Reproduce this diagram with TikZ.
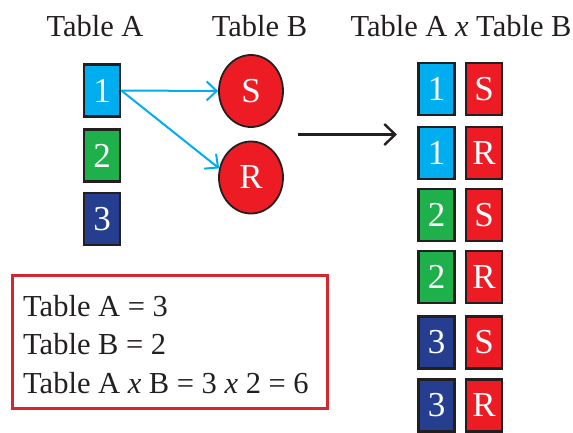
\documentclass[tikz,border=0pt]{standalone}
\usepackage{fontspec}
\setmainfont{Liberation Serif}
\usetikzlibrary{arrows.meta,shapes.geometric}
\definecolor{cyanA}{HTML}{00AEEF}
\definecolor{greenA}{HTML}{1EB04B}
\definecolor{navyA}{HTML}{253E8F}
\definecolor{redA}{HTML}{ED1C24}
\definecolor{edgeA}{HTML}{231F20}
\definecolor{frameA}{HTML}{D7262F}
\begin{document}
\begin{tikzpicture}[x=1pt,y=-1pt,
  cell/.style={draw=edgeA, line width=2.6pt, minimum width=36pt, minimum height=52pt,
    inner sep=0pt, text=white, font=\fontsize{35}{35}\selectfont},
  oval/.style={ellipse, draw=edgeA, fill=redA, line width=1.8pt, minimum width=64pt,
    minimum height=72pt, inner sep=0pt, text=white, font=\fontsize{35}{35}\selectfont},
  head/.style={anchor=base, font=\fontsize{30.5}{30.5}\selectfont, text=edgeA, inner sep=0pt},
  line/.style={anchor=base west, font=\fontsize{30.5}{30.5}\selectfont, text=edgeA, inner sep=0pt},
  link/.style={draw=cyanA, line width=2pt, -{Straight Barb[length=10pt,width=19pt,line width=2pt]}},
  big/.style={draw=edgeA, line width=2.4pt, -{Straight Barb[length=11pt,width=21pt,line width=2.4pt]}}
]
\useasboundingbox (0,0) rectangle (573,432);

% headers
\node[head] (hA) at (95,36.5) {Table A};
\node[head] (hB) at (259.5,36.5) {Table B};
\node[head] (hAB) at (461,36.5) {Table A \textit{x} Table B};

% table A
\node[cell, fill=cyanA] (A1) at (102,90.5) {1};
\node[cell, fill=greenA] (A2) at (102,155.5) {2};
\node[cell, fill=navyA] (A3) at (102,219) {3};

% table B
\node[oval] (S) at (251,91) {S};
\node[oval] (R) at (251,177.5) {R};

\draw[link] (A1.east) -- (S.west);
\draw[link] (A1.east) -- (R.164);

% big arrow
\coordinate (bs) at (298,134.5);
\coordinate (be) at (397,134.5);
\draw[big] (bs) -- (be);

% product
\node[cell, fill=cyanA]  (p1) at (436.5,89)  {1};
\node[cell, fill=redA]   (q1) at (484,89)    {S};
\node[cell, fill=cyanA]  (p2) at (436.5,153) {1};
\node[cell, fill=redA]   (q2) at (484,153)   {R};
\node[cell, fill=greenA] (p3) at (436.5,215) {2};
\node[cell, fill=redA]   (q3) at (484,215)   {S};
\node[cell, fill=greenA] (p4) at (436.5,277) {2};
\node[cell, fill=redA]   (q4) at (484,277)   {R};
\node[cell, fill=navyA]  (p5) at (436.5,342.5) {3};
\node[cell, fill=redA]   (q5) at (484,342.5) {S};
\node[cell, fill=navyA]  (p6) at (436.5,405.5) {3};
\node[cell, fill=redA]   (q6) at (484,405.5) {R};

% summary box
\node[draw=frameA, line width=2.2pt, minimum width=315pt, minimum height=133pt, inner sep=0pt]
  (sum) at (170,342) {};
\node[line] (l1) at (23,316.5) {Table A = 3};
\node[line] (l2) at (23,354) {Table B = 2};
\node[line] (l3) at (23,393) {Table A \textit{x} B = 3 \textit{x} 2 = 6};
\end{tikzpicture}
\end{document}
